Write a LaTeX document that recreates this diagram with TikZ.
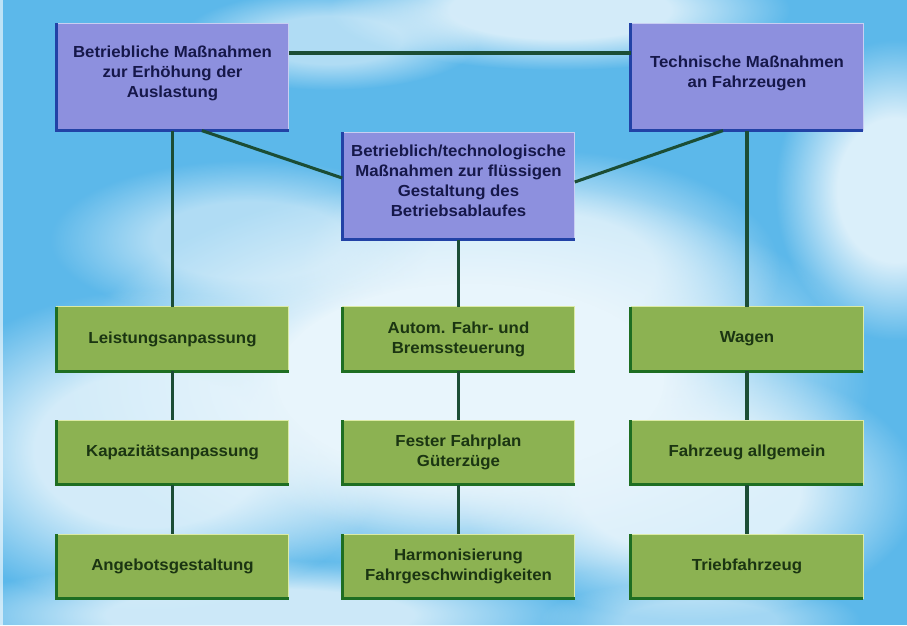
\documentclass[tikz,border=0pt]{standalone}
\usepackage{fontspec}
\newfontfamily\boxfont{Liberation Sans}[FakeStretch=1.05]
\usetikzlibrary{fadings}

\definecolor{sky}{HTML}{5CB8EA}
\definecolor{skylight}{HTML}{E8F5FC}
\definecolor{bluefill}{HTML}{8D90DE}
\definecolor{blueedge}{HTML}{2242A6}
\definecolor{bluelight}{HTML}{C9CFF2}
\definecolor{bluetext}{HTML}{16184A}
\definecolor{greenfill}{HTML}{8CB252}
\definecolor{greenedge}{HTML}{1E6E22}
\definecolor{greenlight}{HTML}{DCEBA6}
\definecolor{greentext}{HTML}{1B3512}
\definecolor{linkgreen}{HTML}{1B4D35}

% soft cloud: opaque core, smooth falloff to the rim
\pgfdeclareradialshading{cloudshade}{\pgfpointorigin}{%
  color(0bp)=(pgftransparent!0); color(12bp)=(pgftransparent!0);
  color(25bp)=(pgftransparent!100); color(50bp)=(pgftransparent!100)}
\pgfdeclarefading{cloudfade}{\pgfuseshading{cloudshade}}

\begin{document}
\begin{tikzpicture}[x=0.75pt, y=-0.75pt,
  every node/.style={font=\boxfont\bfseries\fontsize{12}{15}\selectfont},
  bluebox/.style={fill=bluefill, text=bluetext, align=center, inner sep=0pt,
    minimum width=174pt, minimum height=80pt, text depth=8pt},
  greenbox/.style={fill=greenfill, text=greentext, align=center, inner sep=0pt,
    minimum width=174pt, minimum height=48pt},
  link/.style={draw=linkgreen, line width=2.3pt},
  cloud/.style={fill=skylight, path fading=cloudfade}]

% sky and clouds
\fill[sky] (0,0) rectangle (907,625);
\useasboundingbox (0,0) rectangle (907,625);
\fill[cloud, fill opacity=0.85] (560,10) ellipse [x radius=230, y radius=60];
\fill[cloud, fill opacity=0.6] (330,40) ellipse [x radius=150, y radius=50];
\fill[cloud, fill opacity=0.9] (895,190) ellipse [x radius=120, y radius=150];
\fill[cloud, fill opacity=1] (470,380) ellipse [x radius=400, y radius=200];
\fill[cloud, fill opacity=0.8] (540,270) ellipse [x radius=240, y radius=120];
\fill[cloud, fill opacity=0.85] (150,450) ellipse [x radius=240, y radius=160];
\fill[cloud, fill opacity=0.9] (690,490) ellipse [x radius=230, y radius=130];
\fill[cloud, fill opacity=0.6] (250,240) ellipse [x radius=200, y radius=80];
\fill[cloud, fill opacity=0.8] (260,615) ellipse [x radius=320, y radius=55];
\fill[cloud, fill opacity=0.5] (700,620) ellipse [x radius=160, y radius=40];
\fill[cloud, fill opacity=0.7] (470,420) ellipse [x radius=260, y radius=120];
\fill[white, opacity=0.6] (0,0) rectangle (3,625);

% main groups
\node[bluebox] (b1) at (172.5,77) {Betriebliche Maßnahmen\\zur Erhöhung der\\Auslastung};
\node[bluebox] (b2) at (747,77) {Technische Maßnahmen\\an Fahrzeugen};
\node[bluebox] (b3) at (458.5,186) {Betrieblich/technologische\\Maßnahmen zur flüssigen\\Gestaltung des\\Betriebsablaufes};

% measures
\node[greenbox] (l1) at (172.5,339) {Leistungsanpassung};
\node[greenbox] (l2) at (172.5,452.5) {Kapazitätsanpassung};
\node[greenbox] (l3) at (172.5,566.5) {Angebotsgestaltung};
\node[greenbox] (m1) at (458.5,339) {Autom. Fahr- und\\Bremssteuerung};
\node[greenbox] (m2) at (458.5,452.5) {Fester Fahrplan\\Güterzüge};
\node[greenbox] (m3) at (458.5,566.5) {Harmonisierung\\Fahrgeschwindigkeiten};
\node[greenbox] (r1) at (747,339) {Wagen};
\node[greenbox] (r2) at (747,452.5) {Fahrzeug allgemein};
\node[greenbox] (r3) at (747,566.5) {Triebfahrzeug};

% box edges: dark left/bottom, light top/right
\foreach \n in {b1,b2,b3} {
  \draw[bluelight, line width=1pt] (\n.north west) -- (\n.north east) -- (\n.south east);
  \draw[blueedge, line width=2.2pt] (\n.north west) -- (\n.south west) -- (\n.south east);
}
\foreach \n in {l1,l2,l3,m1,m2,m3,r1,r2,r3} {
  \draw[greenlight, line width=1pt] (\n.north west) -- (\n.north east) -- (\n.south east);
  \draw[greenedge, line width=2.2pt] (\n.north west) -- (\n.south west) -- (\n.south east);
}

% connectors
\draw[link] ([yshift=18pt]b1.east) -- ([yshift=18pt]b2.west);
\draw[link] ([xshift=22pt]b1.south) -- ([yshift=6pt]b3.west);
\draw[link] ([xshift=-18pt]b2.south) -- ([yshift=3pt]b3.east);
\draw[link] (b1.south) -- (l1.north);
\draw[link] (l1.south) -- (l2.north);
\draw[link] (l2.south) -- (l3.north);
\draw[link] (b3.south) -- (m1.north);
\draw[link] (m1.south) -- (m2.north);
\draw[link] (m2.south) -- (m3.north);
\draw[link] (b2.south) -- (r1.north);
\draw[link] (r1.south) -- (r2.north);
\draw[link] (r2.south) -- (r3.north);
\end{tikzpicture}
\end{document}
